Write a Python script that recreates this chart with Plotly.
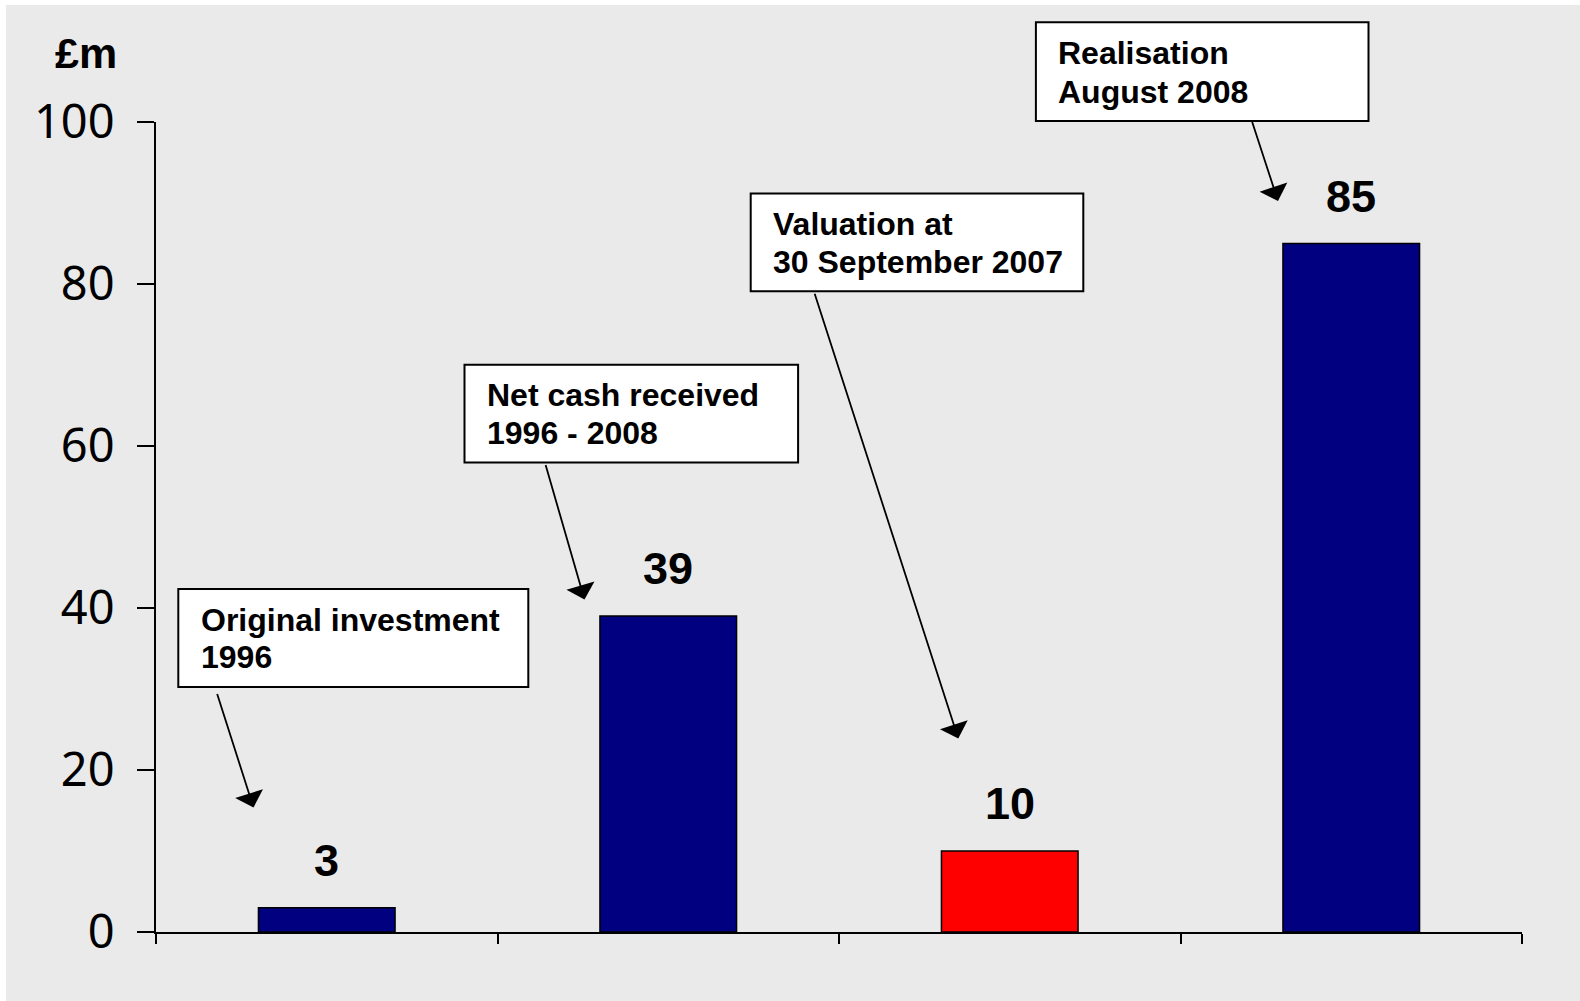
import plotly.graph_objects as go

# ---- data ----
categories = ["Original investment 1996", "Net cash received 1996 - 2008",
              "Valuation at 30 September 2007", "Realisation August 2008"]
values = [3, 39, 10, 85]
box_lines = [["Original investment", "1996"],
             ["Net cash received", "1996 - 2008"],
             ["Valuation at", "30 September 2007"],
             ["Realisation", "August 2008"]]
y_ticks = [0, 20, 40, 60, 80, 100]

# ---- styles / layout ----
bar_colors = ["#000080", "#000080", "#FF0000", "#000080"]
BG = "#EAEAEA"
FIG_W, FIG_H = 1580, 1001
L, R_PX, T, B_PX = 156, 1522, 122, 932
PW, PH = R_PX - L, B_PX - T

def fx(px):
    return (px - L) / PW

def fy(py):
    return (B_PX - py) / PH

# box geometry in pixels: x0, y0, x1, y1, text_x, line1_y, line2_y
boxes = [
    (178.3, 589.0, 528.3, 687.0, 198.5, 619.5, 657.0),
    (464.5, 364.8, 798.1, 462.5, 484.7, 395.0, 433.3),
    (750.7, 193.5, 1083.3, 291.2, 770.9, 223.7, 262.0),
    (1035.9, 22.2, 1368.5, 120.9, 1056.0, 53.4, 91.7),
]
# arrows: tail x, tail y, head x, head y (pixels)
arrows = [
    (216.7, 692.5, 253.5, 807.5),
    (545.2, 463.5, 584.5, 599.6),
    (814.2, 292.2, 958.3, 738.6),
    (1251.7, 120.5, 1278.0, 201.0),
]

x_pos = list(range(len(categories)))

fig = go.Figure()
fig.add_trace(go.Bar(
    x=x_pos, y=values, width=0.4,
    marker=dict(color=bar_colors, line=dict(color="black", width=1.5)),
    hovertext=categories, showlegend=False,
))

BOLD = dict(family="Liberation Sans, Arial, sans-serif", color="black", weight="bold")

annotations = []
# value labels
for xi, v in zip(x_pos, values):
    annotations.append(dict(x=xi, y=v, xref="x", yref="y", text=str(v),
                            showarrow=False, yanchor="bottom", yshift=20,
                            font=dict(size=45, **BOLD)))
# box texts
shapes = []
for (x0, y0, x1, y1, tx, ly1, ly2), lines in zip(boxes, box_lines):
    shapes.append(dict(type="rect", xref="paper", yref="paper",
                       x0=fx(x0), x1=fx(x1), y0=fy(y1), y1=fy(y0),
                       fillcolor="white", line=dict(color="black", width=2),
                       layer="above"))
    for ly, txt in zip((ly1, ly2), lines):
        annotations.append(dict(x=fx(tx), y=fy(ly), xref="paper", yref="paper",
                                text=txt, showarrow=False, xanchor="left",
                                yanchor="middle", font=dict(size=32, **BOLD)))
# arrows
for tx0, ty0, hx, hy in arrows:
    annotations.append(dict(x=fx(hx), y=fy(hy), xref="paper", yref="paper",
                            ax=tx0 - hx, ay=ty0 - hy, axref="pixel", ayref="pixel",
                            text="", showarrow=True, arrowhead=1, arrowsize=2.7,
                            arrowwidth=1.8, arrowcolor="black",
                            standoff=0, startstandoff=0))
# unit label
annotations.append(dict(x=fx(85.5), y=fy(52.5), xref="paper", yref="paper",
                        text="£m", showarrow=False, xanchor="center",
                        yanchor="middle", font=dict(size=43, **BOLD)))

# white strips at top and left edge
shapes.append(dict(type="rect", xref="paper", yref="paper", x0=fx(0), x1=fx(FIG_W),
                   y0=fy(5), y1=fy(0), fillcolor="white", line=dict(width=0), layer="below"))
shapes.append(dict(type="rect", xref="paper", yref="paper", x0=fx(0), x1=fx(6),
                   y0=fy(FIG_H), y1=fy(0), fillcolor="white", line=dict(width=0), layer="below"))

fig.update_layout(
    width=FIG_W, height=FIG_H,
    margin=dict(l=L, r=FIG_W - R_PX, t=T, b=FIG_H - B_PX, pad=0),
    paper_bgcolor=BG, plot_bgcolor=BG,
    annotations=annotations, shapes=shapes,
    bargap=0.6,
    xaxis=dict(range=[-0.5, len(categories) - 0.5],
               tickvals=[i - 0.5 for i in range(len(categories) + 1)],
               showticklabels=False, ticks="outside", ticklen=10, tickwidth=2,
               tickcolor="black", showline=True, linecolor="black", linewidth=2,
               showgrid=False, zeroline=False, fixedrange=True),
    yaxis=dict(range=[0, 100], tickvals=y_ticks, ticks="outside", ticklen=17,
               tickwidth=2, tickcolor="black", showline=True, linecolor="black",
               linewidth=2, showgrid=False, zeroline=False,
               tickfont=dict(family="Noto Sans, Open Sans, sans-serif", size=47, color="black"),
               ticklabelstandoff=13, fixedrange=True),
)

fig.write_html("out.html", config={"displayModeBar": False},
               post_script="document.body.style.margin='0';document.body.style.overflow='hidden';")
